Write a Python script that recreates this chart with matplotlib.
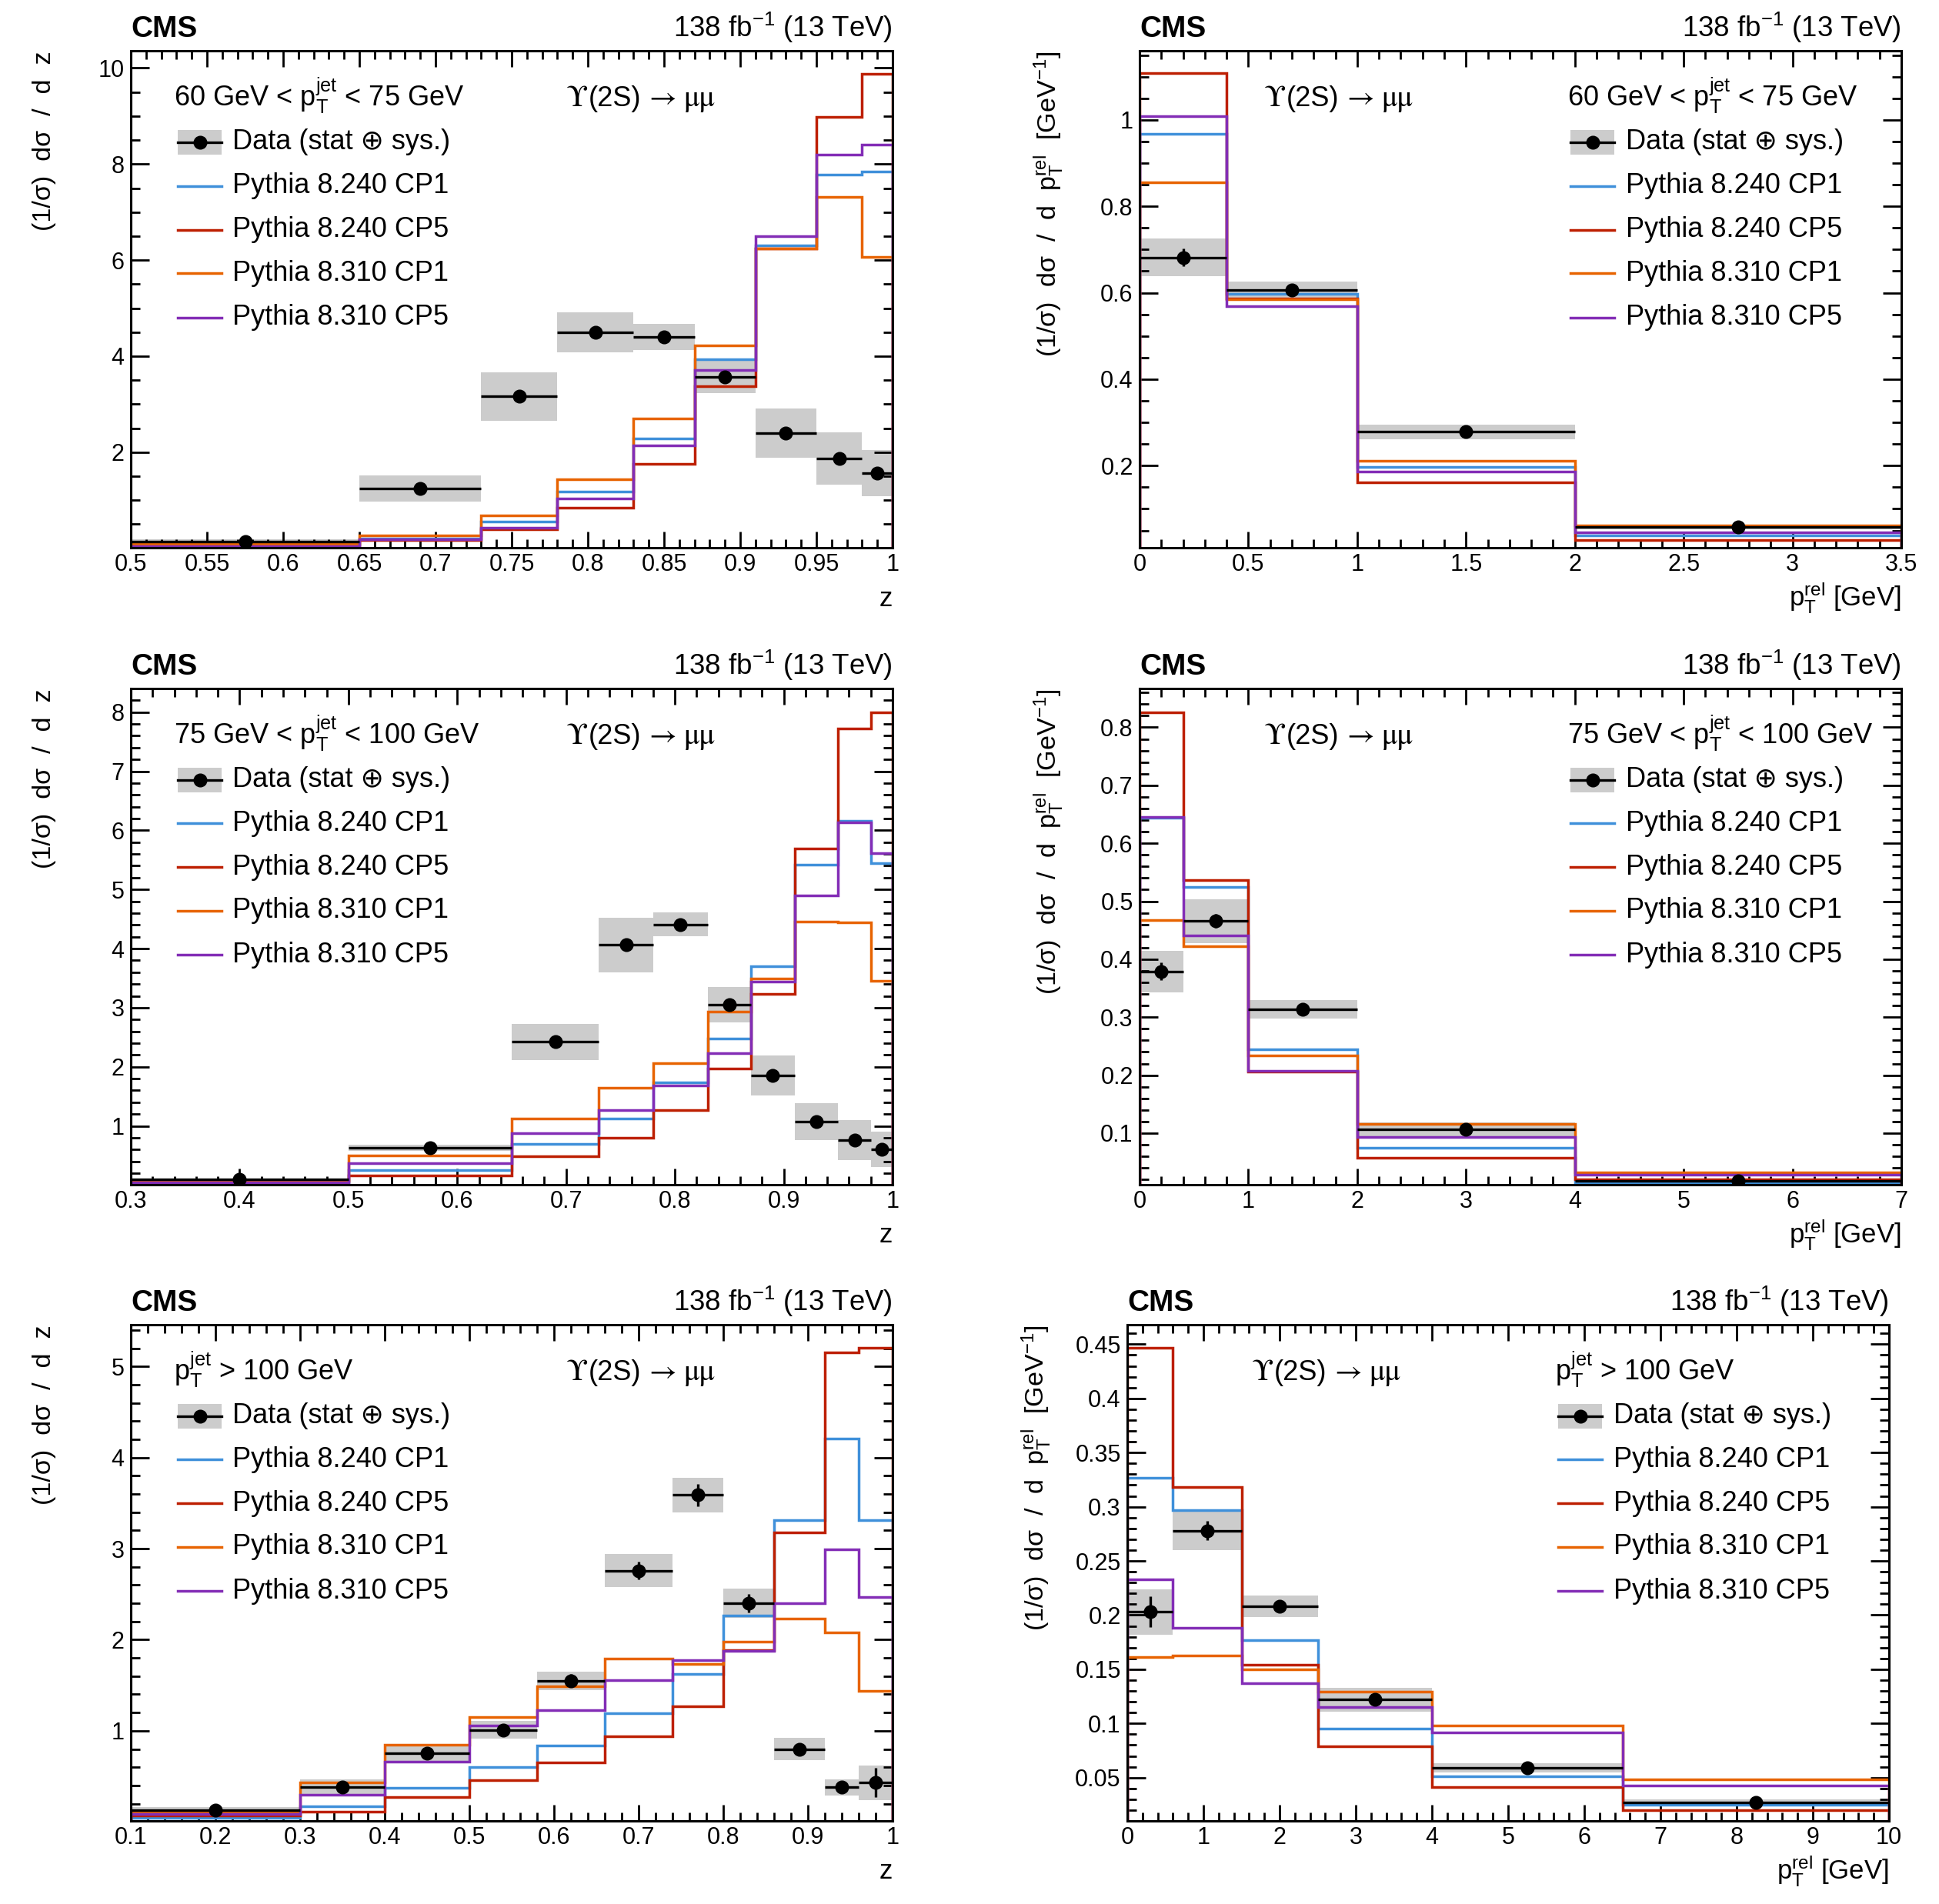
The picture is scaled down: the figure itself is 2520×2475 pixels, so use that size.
import numpy as np
import matplotlib
matplotlib.use("Agg")
import matplotlib.pyplot as plt
from matplotlib.patches import Rectangle
from matplotlib.ticker import MultipleLocator, FuncFormatter

# ---------------- data ----------------
# top row: 60 GeV < pT jet < 75 GeV
z_edges_1 = [0.5, 0.65, 0.73, 0.78, 0.83, 0.87, 0.91, 0.95, 0.98, 1.0]
z_data_1 = [0.14, 1.24, 3.16, 4.50, 4.40, 3.57, 2.40, 1.87, 1.57]
z_tot_1 = [0.04, 0.27, 0.50, 0.42, 0.27, 0.34, 0.51, 0.55, 0.48]
z_stat_1 = [0.02, 0.05, 0.08, 0.08, 0.07, 0.08, 0.08, 0.08, 0.08]
z_cp1_240_1 = [0.07, 0.20, 0.55, 1.18, 2.29, 3.93, 6.30, 7.78, 7.85]
z_cp5_240_1 = [0.05, 0.17, 0.39, 0.84, 1.76, 3.37, 6.24, 8.98, 9.88]
z_cp1_310_1 = [0.09, 0.27, 0.69, 1.44, 2.70, 4.22, 6.24, 7.31, 6.07]
z_cp5_310_1 = [0.05, 0.19, 0.43, 1.04, 2.14, 3.71, 6.50, 8.19, 8.40]

p_edges_1 = [0, 0.4, 1, 2, 3.5]
p_data_1 = [0.682, 0.606, 0.278, 0.058]
p_tot_1 = [0.044, 0.020, 0.017, 0.006]
p_stat_1 = [0.020, 0.010, 0.005, 0.003]
p_cp1_240_1 = [0.967, 0.598, 0.197, 0.038]
p_cp5_240_1 = [1.108, 0.587, 0.162, 0.028]
p_cp1_310_1 = [0.856, 0.585, 0.212, 0.062]
p_cp5_310_1 = [1.008, 0.569, 0.186, 0.046]

# middle row: 75 GeV < pT jet < 100 GeV
z_edges_2 = [0.3, 0.5, 0.65, 0.73, 0.78, 0.83, 0.87, 0.91, 0.95, 0.98, 1.0]
z_data_2 = [0.09, 0.63, 2.42, 4.06, 4.41, 3.05, 1.85, 1.07, 0.76, 0.60]
z_tot_2 = [0.02, 0.05, 0.30, 0.46, 0.20, 0.30, 0.34, 0.31, 0.34, 0.30]
z_stat_2 = [0.01, 0.03, 0.06, 0.08, 0.08, 0.07, 0.06, 0.05, 0.05, 0.05]
z_cp1_240_2 = [0.05, 0.25, 0.69, 1.13, 1.73, 2.48, 3.70, 5.42, 6.16, 5.44]
z_cp5_240_2 = [0.06, 0.16, 0.49, 0.80, 1.27, 1.97, 3.23, 5.69, 7.72, 8.00]
z_cp1_310_2 = [0.08, 0.50, 1.13, 1.64, 2.06, 2.93, 3.49, 4.46, 4.44, 3.46]
z_cp5_310_2 = [0.04, 0.37, 0.88, 1.27, 1.69, 2.23, 3.44, 4.90, 6.13, 5.61]

p_edges_2 = [0, 0.4, 1, 2, 4, 7]
p_data_2 = [0.379, 0.466, 0.314, 0.106, 0.017]
p_tot_2 = [0.036, 0.038, 0.016, 0.013, 0.003]
p_stat_2 = [0.015, 0.012, 0.006, 0.004, 0.002]
p_cp1_240_2 = [0.644, 0.524, 0.244, 0.075, 0.013]
p_cp5_240_2 = [0.826, 0.536, 0.206, 0.057, 0.020]
p_cp1_310_2 = [0.468, 0.422, 0.234, 0.116, 0.032]
p_cp5_310_2 = [0.646, 0.441, 0.207, 0.093, 0.028]

# bottom row: pT jet > 100 GeV
z_edges_3 = [0.1, 0.3, 0.4, 0.5, 0.58, 0.66, 0.74, 0.8, 0.86, 0.92, 0.96, 1.0]
z_data_3 = [0.13, 0.38, 0.75, 1.01, 1.55, 2.76, 3.59, 2.40, 0.80, 0.38, 0.43]
z_tot_3 = [0.03, 0.09, 0.10, 0.10, 0.10, 0.18, 0.19, 0.16, 0.12, 0.09, 0.19]
z_stat_3 = [0.06, 0.03, 0.05, 0.06, 0.07, 0.10, 0.12, 0.10, 0.04, 0.04, 0.16]
z_cp1_240_3 = [0.04, 0.17, 0.37, 0.60, 0.84, 1.19, 1.62, 2.27, 3.31, 4.21, 3.31]
z_cp5_240_3 = [0.07, 0.11, 0.27, 0.46, 0.65, 0.94, 1.27, 1.89, 3.18, 5.16, 5.21]
z_cp1_310_3 = [0.11, 0.43, 0.85, 1.15, 1.49, 1.79, 1.73, 1.98, 2.23, 2.08, 1.44]
z_cp5_310_3 = [0.09, 0.30, 0.66, 1.06, 1.23, 1.56, 1.78, 1.88, 2.40, 2.99, 2.47]

p_edges_3 = [0, 0.6, 1.5, 2.5, 4, 6.5, 10]
p_data_3 = [0.203, 0.278, 0.208, 0.122, 0.059, 0.027]
p_tot_3 = [0.021, 0.018, 0.010, 0.011, 0.004, 0.003]
p_stat_3 = [0.014, 0.009, 0.004, 0.004, 0.002, 0.002]
p_cp1_240_3 = [0.327, 0.297, 0.177, 0.095, 0.051, 0.025]
p_cp5_240_3 = [0.447, 0.318, 0.154, 0.079, 0.041, 0.020]
p_cp1_310_3 = [0.161, 0.163, 0.150, 0.129, 0.098, 0.048]
p_cp5_310_3 = [0.233, 0.188, 0.137, 0.115, 0.092, 0.043]

mc_labels = ["Pythia 8.240 CP1", "Pythia 8.240 CP5", "Pythia 8.310 CP1", "Pythia 8.310 CP5"]
mc_colors = ["#3f90da", "#bd1f01", "#e76300", "#832db6"]

pt_texts = [
    r"60 GeV < $\mathrm{p}_{\mathrm{T}}^{\mathrm{jet}}$ < 75 GeV",
    r"75 GeV < $\mathrm{p}_{\mathrm{T}}^{\mathrm{jet}}$ < 100 GeV",
    r"$\mathrm{p}_{\mathrm{T}}^{\mathrm{jet}}$ > 100 GeV",
]

# ---------------- style ----------------
plt.rcParams["font.family"] = ["Liberation Sans", "DejaVu Sans"]
plt.rcParams["mathtext.fontset"] = "custom"
plt.rcParams["mathtext.rm"] = "Liberation Sans"
plt.rcParams["mathtext.it"] = "Liberation Sans:italic"
plt.rcParams["mathtext.bf"] = "Liberation Sans:bold"

W, H = 2520, 2475
DPI = 200
fig = plt.figure(figsize=(W / DPI, H / DPI), dpi=DPI)
SERIF = ["STIXGeneral", "DejaVu Serif"]


def px_rect(x0, x1, y0, y1):
    return [x0 / W, 1 - y1 / H, (x1 - x0) / W, (y1 - y0) / H]


def upsilon_text(ax, x, y, fs):
    # "ϒ(2S) → μμ" with the symbol-font pieces in a serif face
    pieces = [("ϒ", SERIF, 0), ("(2S)", ["Liberation Sans"], 0.3),
              ("→", SERIF, 3.5), ("μμ", SERIF, 3.5)]
    t = ax.text(x, y, pieces[0][0], transform=ax.transAxes, fontsize=fs + 1,
                family=pieces[0][1], ha="left", va="baseline")
    for s, fam, gap in pieces[1:]:
        t = ax.annotate(s, xy=(1, y), xycoords=(t, ax.transAxes),
                        xytext=(gap, 0), textcoords="offset points",
                        fontsize=fs + (1 if fam is SERIF else 0), family=fam,
                        ha="left", va="baseline")


def draw_panel(rect, edges, data, tot, stat, mcs, ylim, xmaj, xmin, ymaj, ymin,
               xlabel, ylabel, pt_text, right_side):
    ax = fig.add_axes(rect)
    edges = np.array(edges)
    centers = 0.5 * (edges[1:] + edges[:-1])
    widths = edges[1:] - edges[:-1]
    data = np.array(data)
    tot = np.array(tot)

    # total uncertainty boxes
    ax.bar(centers, 2 * tot, width=widths, bottom=data - tot,
           color="#cccccc", edgecolor="none", zorder=1)
    # MC predictions
    for vals, col in zip(mcs, mc_colors):
        ax.stairs(vals, edges, color=col, lw=1.25, zorder=2)
    # data
    ax.errorbar(centers, data, xerr=widths / 2, yerr=stat, fmt="o", color="black",
                ms=5.5, elinewidth=1.2, capsize=0, zorder=3)

    ax.set_xlim(edges[0], edges[-1])
    ax.set_ylim(*ylim)
    ax.xaxis.set_major_locator(MultipleLocator(xmaj))
    ax.xaxis.set_minor_locator(MultipleLocator(xmin))
    ax.yaxis.set_major_locator(MultipleLocator(ymaj))
    ax.yaxis.set_minor_locator(MultipleLocator(ymin))
    fmt = FuncFormatter(lambda v, _: f"{v:g}")
    ax.xaxis.set_major_formatter(fmt)
    ax.yaxis.set_major_formatter(fmt)
    ax.tick_params(which="both", direction="in", top=True, right=True,
                   labelsize=11, width=1.0)
    ax.tick_params(axis="x", which="major", length=7.5, pad=2.5)
    ax.tick_params(axis="x", which="minor", length=3.8)
    ax.tick_params(axis="y", which="major", length=8.5, pad=3)
    ax.tick_params(axis="y", which="minor", length=4.3)
    for sp in ax.spines.values():
        sp.set_linewidth(1.1)

    ax.set_xlabel(xlabel, fontsize=12.5, loc="right")
    ax.xaxis.label.set_va("baseline")
    ax.xaxis.set_label_coords(1.0, -0.117)
    ax.set_ylabel(ylabel, fontsize=12.3, loc="top")
    ax.yaxis.set_label_coords(-0.098, 1.0)

    # header
    ax.text(0.0, 1.028, "CMS", transform=ax.transAxes, fontsize=14, fontweight="bold",
            ha="left", va="baseline")
    ax.text(1.0, 1.028, r"138 fb$^{\mathrm{-1}}$ (13 TeV)", transform=ax.transAxes,
            fontsize=13.2, ha="right", va="baseline")

    # annotations and legend
    if right_side:
        x_ups, x_pt, x_box, x_txt = 0.164, 0.562, 0.566, 0.638
    else:
        x_ups, x_pt, x_box, x_txt = 0.572, 0.057, 0.062, 0.133
    ax.text(x_pt, 0.889, pt_text, transform=ax.transAxes, fontsize=13, ha="left",
            va="baseline")
    upsilon_text(ax, x_ups, 0.889, 13)

    rows = [0.816, 0.728, 0.640, 0.552, 0.463]
    bw, bh = 0.0576, 0.05
    ax.add_patch(Rectangle((x_box, rows[0] - bh / 2), bw, bh, transform=ax.transAxes,
                           color="#cccccc", ec="none", zorder=4))
    ax.plot([x_box, x_box + bw], [rows[0], rows[0]], transform=ax.transAxes,
            color="black", lw=1.2, zorder=5)
    ax.plot([x_box + bw / 2], [rows[0]], "o", transform=ax.transAxes, color="black",
            ms=5.5, zorder=6)
    ax.text(x_txt, rows[0], "Data (stat ⊕ sys.)", transform=ax.transAxes,
            fontsize=13, ha="left", va="center")
    for y, lab, col in zip(rows[1:], mc_labels, mc_colors):
        ax.plot([x_box, x_box + bw], [y, y], transform=ax.transAxes, color=col,
                lw=1.25, zorder=5)
        ax.text(x_txt, y, lab, transform=ax.transAxes, fontsize=13, ha="left",
                va="center")
    return ax


zlab = "(1/σ)  dσ  /  d  z"
plab = r"(1/σ)  dσ  /  d  $\mathrm{p}_{\mathrm{T}}^{\mathrm{rel}}$  [GeV$^{\mathrm{-1}}$]"
pxlab = r"$\mathrm{p}_{\mathrm{T}}^{\mathrm{rel}}$ [GeV]"

# top row
draw_panel(px_rect(170, 1160, 66, 712), z_edges_1, z_data_1, z_tot_1, z_stat_1,
           [z_cp1_240_1, z_cp5_240_1, z_cp1_310_1, z_cp5_310_1], (0.01, 10.36),
           0.05, 0.01, 2, 0.5, "z", zlab, pt_texts[0], False)
draw_panel(px_rect(1481, 2471, 66, 712), p_edges_1, p_data_1, p_tot_1, p_stat_1,
           [p_cp1_240_1, p_cp5_240_1, p_cp1_310_1, p_cp5_310_1], (0.01, 1.16),
           0.5, 0.1, 0.2, 0.05, pxlab, plab, pt_texts[0], True)
# middle row
draw_panel(px_rect(170, 1160, 895, 1540), z_edges_2, z_data_2, z_tot_2, z_stat_2,
           [z_cp1_240_2, z_cp5_240_2, z_cp1_310_2, z_cp5_310_2], (0.005, 8.4),
           0.1, 0.02, 1, 0.2, "z", zlab, pt_texts[1], False)
draw_panel(px_rect(1481, 2471, 895, 1540), p_edges_2, p_data_2, p_tot_2, p_stat_2,
           [p_cp1_240_2, p_cp5_240_2, p_cp1_310_2, p_cp5_310_2], (0.011, 0.867),
           1, 0.2, 0.1, 0.02, pxlab, plab, pt_texts[1], True)
# bottom row
draw_panel(px_rect(170, 1160, 1722, 2367), z_edges_3, z_data_3, z_tot_3, z_stat_3,
           [z_cp1_240_3, z_cp5_240_3, z_cp1_310_3, z_cp5_310_3], (0.01, 5.46),
           0.1, 0.02, 1, 0.2, "z", zlab, pt_texts[2], False)
draw_panel(px_rect(1465, 2455, 1722, 2367), p_edges_3, p_data_3, p_tot_3, p_stat_3,
           [p_cp1_240_3, p_cp5_240_3, p_cp1_310_3, p_cp5_310_3], (0.01, 0.468),
           1, 0.2, 0.05, 0.01, pxlab, plab, pt_texts[2], True)

fig.savefig("out.png", dpi=DPI)
